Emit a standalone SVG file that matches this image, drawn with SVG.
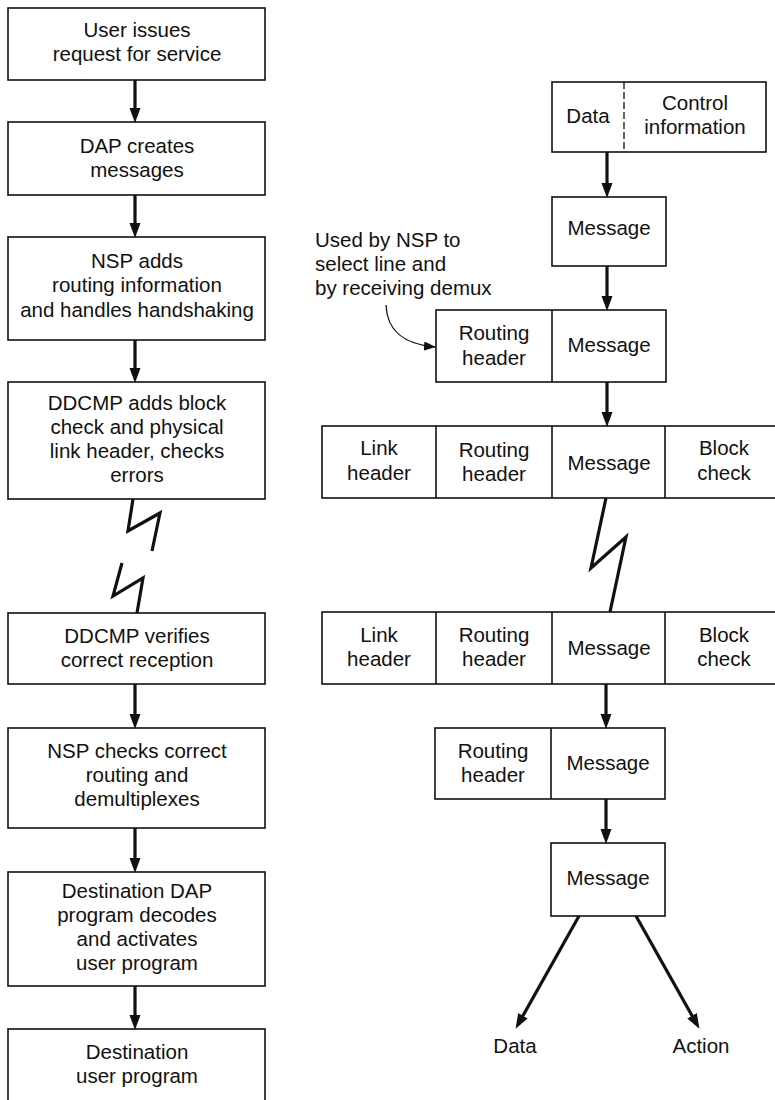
<svg xmlns="http://www.w3.org/2000/svg" width="775" height="1100" viewBox="0 0 775 1100">
  <style>
    .box { fill: #fff; stroke: #111; stroke-width: 1.6; }
    .div { stroke: #111; stroke-width: 1.6; fill: none; }
    .dash { stroke: #111; stroke-width: 1.3; stroke-dasharray: 7 3; fill: none; }
    .arrow { stroke: #111; stroke-width: 3.2; fill: none; marker-end: url(#head); }
    .bolt { stroke: #111; stroke-width: 3.2; fill: none; stroke-linejoin: miter; }
    .thin { stroke: #111; stroke-width: 1.3; fill: none; marker-end: url(#smallhead); }
    text { font-family: "Liberation Sans", Arial, sans-serif; font-size: 20.5px; fill: #111; text-anchor: middle; }
    .left { text-anchor: start; }
  </style>
  <defs>
    <marker id="head" markerUnits="userSpaceOnUse" markerWidth="16" markerHeight="12" refX="6" refY="5.5" orient="auto">
      <path d="M0,0 L15,5.5 L0,11 z" fill="#111"/>
    </marker>
    <marker id="smallhead" markerUnits="userSpaceOnUse" markerWidth="14" markerHeight="10" refX="11" refY="4.5" orient="auto">
      <path d="M0,0 L12,4.5 L0,9 z" fill="#111"/>
    </marker>
  </defs>

  <rect width="775" height="1100" fill="#fff"/>

  <!-- left column: processing steps -->
  <g id="step-user-request">
    <rect class="box" x="8" y="8" width="257" height="72"/>
    <text x="137" y="37">User issues</text>
    <text x="137" y="61">request for service</text>
  </g>
  <g id="step-dap-creates">
    <rect class="box" x="8" y="122" width="257" height="73"/>
    <text x="137" y="153">DAP creates</text>
    <text x="137" y="177">messages</text>
  </g>
  <g id="step-nsp-adds">
    <rect class="box" x="8" y="237" width="257" height="103"/>
    <text x="137" y="268">NSP adds</text>
    <text x="137" y="292">routing information</text>
    <text x="137" y="317">and handles handshaking</text>
  </g>
  <g id="step-ddcmp-adds">
    <rect class="box" x="8" y="382" width="257" height="117"/>
    <text x="137" y="410">DDCMP adds block</text>
    <text x="137" y="434">check and physical</text>
    <text x="137" y="458">link header, checks</text>
    <text x="137" y="482">errors</text>
  </g>
  <g id="step-ddcmp-verifies">
    <rect class="box" x="8" y="613" width="257" height="71"/>
    <text x="137" y="643">DDCMP verifies</text>
    <text x="137" y="667">correct reception</text>
  </g>
  <g id="step-nsp-checks">
    <rect class="box" x="8" y="728" width="257" height="100"/>
    <text x="137" y="758">NSP checks correct</text>
    <text x="137" y="782">routing and</text>
    <text x="137" y="806">demultiplexes</text>
  </g>
  <g id="step-dest-dap">
    <rect class="box" x="8" y="872" width="257" height="114"/>
    <text x="137" y="898">Destination DAP</text>
    <text x="137" y="922">program decodes</text>
    <text x="137" y="946">and activates</text>
    <text x="137" y="970">user program</text>
  </g>
  <g id="step-dest-user">
    <rect class="box" x="8" y="1029" width="257" height="90"/>
    <text x="137" y="1059">Destination</text>
    <text x="137" y="1083">user program</text>
  </g>

  <!-- right column: message formats -->
  <g id="fmt-data-control">
    <rect class="box" x="552" y="82" width="214" height="70"/>
    <line class="dash" x1="624" y1="82" x2="624" y2="152"/>
    <text x="588" y="123">Data</text>
    <text x="695" y="110">Control</text>
    <text x="695" y="134">information</text>
  </g>
  <g id="fmt-message-1">
    <rect class="box" x="552" y="197" width="114" height="69"/>
    <text x="609" y="235">Message</text>
  </g>
  <g id="fmt-routing-message-1">
    <rect class="box" x="436" y="310" width="230" height="72"/>
    <line class="div" x1="552" y1="310" x2="552" y2="382"/>
    <text x="494" y="340">Routing</text>
    <text x="494" y="365">header</text>
    <text x="609" y="352">Message</text>
  </g>
  <g id="fmt-frame-send">
    <rect class="box" x="322" y="426" width="470" height="72"/>
    <line class="div" x1="436" y1="426" x2="436" y2="498"/>
    <line class="div" x1="552" y1="426" x2="552" y2="498"/>
    <line class="div" x1="665" y1="426" x2="665" y2="498"/>
    <text x="379" y="455">Link</text>
    <text x="379" y="480">header</text>
    <text x="494" y="457">Routing</text>
    <text x="494" y="481">header</text>
    <text x="609" y="470">Message</text>
    <text x="724" y="455">Block</text>
    <text x="724" y="480">check</text>
  </g>
  <g id="fmt-frame-receive">
    <rect class="box" x="322" y="612" width="470" height="72"/>
    <line class="div" x1="436" y1="612" x2="436" y2="684"/>
    <line class="div" x1="552" y1="612" x2="552" y2="684"/>
    <line class="div" x1="665" y1="612" x2="665" y2="684"/>
    <text x="379" y="642">Link</text>
    <text x="379" y="666">header</text>
    <text x="494" y="642">Routing</text>
    <text x="494" y="666">header</text>
    <text x="609" y="655">Message</text>
    <text x="724" y="642">Block</text>
    <text x="724" y="666">check</text>
  </g>
  <g id="fmt-routing-message-2">
    <rect class="box" x="435" y="728" width="230" height="71"/>
    <line class="div" x1="551" y1="728" x2="551" y2="799"/>
    <text x="493" y="758">Routing</text>
    <text x="493" y="782">header</text>
    <text x="608" y="770">Message</text>
  </g>
  <g id="fmt-message-2">
    <rect class="box" x="551" y="843" width="114" height="73"/>
    <text x="608" y="885">Message</text>
  </g>
  <g id="out-data">
    <text x="515" y="1053">Data</text>
  </g>
  <g id="out-action">
    <text x="701" y="1053">Action</text>
  </g>
  <g id="note-routing">
    <text class="left" x="315" y="247">Used by NSP to</text>
    <text class="left" x="315" y="271">select line and</text>
    <text class="left" x="315" y="295">by receiving demux</text>
  </g>

  <!-- connectors -->
  <g id="connectors">
    <line class="arrow" x1="135" y1="80" x2="135" y2="114"/>
    <line class="arrow" x1="135" y1="195" x2="135" y2="229"/>
    <line class="arrow" x1="135" y1="340" x2="135" y2="374"/>
    <polyline class="bolt" points="133,499 128,531 160,513 152,551"/>
    <polyline class="bolt" points="122,563 113,596 143,578 137,613"/>
    <line class="arrow" x1="135" y1="684" x2="135" y2="720"/>
    <line class="arrow" x1="135" y1="828" x2="135" y2="864"/>
    <line class="arrow" x1="135" y1="986" x2="135" y2="1021"/>

    <line class="arrow" x1="607" y1="152" x2="607" y2="189"/>
    <line class="arrow" x1="607" y1="266" x2="607" y2="302"/>
    <line class="arrow" x1="607" y1="382" x2="607" y2="418"/>
    <polyline class="bolt" points="606,498 591,568 626,537 610,612"/>
    <line class="arrow" x1="606" y1="684" x2="606" y2="720"/>
    <line class="arrow" x1="606" y1="799" x2="606" y2="835"/>
    <line class="arrow" x1="579" y1="916" x2="520" y2="1021"/>
    <line class="arrow" x1="636" y1="916" x2="695" y2="1021"/>

    <path class="thin" d="M386,305 C387,330 402,344 435,347"/>
  </g>
</svg>
